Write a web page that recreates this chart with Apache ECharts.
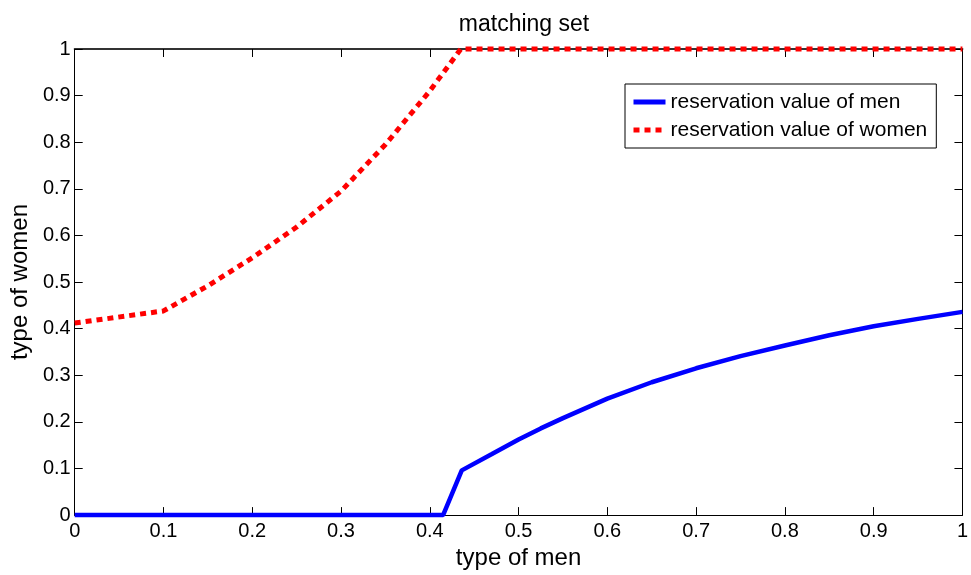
<!DOCTYPE html>
<html>
<head>
<meta charset="utf-8">
<script src="https://cdn.jsdelivr.net/npm/echarts@6/dist/echarts.min.js"></script>
<style>html,body{margin:0;padding:0;background:#fff;}#c{width:971px;height:575px;}</style>
</head>
<body>
<div id="c"></div>
<script>
const titleText = 'matching set';
const xName = 'type of men';
const yName = 'type of women';
const menName = 'reservation value of men';
const womenName = 'reservation value of women';
const menX = [0, 0.415, 0.436, 0.47, 0.5, 0.525, 0.55, 0.6, 0.65, 0.7, 0.75, 0.8, 0.85, 0.9, 0.95, 1.0];
const menY = [0, 0, 0.096, 0.131, 0.162, 0.186, 0.208, 0.25, 0.285, 0.315, 0.341, 0.364, 0.386, 0.405, 0.421, 0.436];
const womenX = [0, 0.1, 0.15, 0.2, 0.25, 0.3, 0.35, 0.4, 0.435, 1.0];
const womenY = [0.412, 0.438, 0.492, 0.552, 0.618, 0.695, 0.795, 0.91, 1.0, 1.0];

const pairs = (xs, ys) => xs.map((x, i) => [x, ys[i]]);
const font = 'Liberation Sans, Arial, sans-serif';
const chart = echarts.init(document.getElementById('c'), null, {renderer: 'canvas'});
const axisCommon = {
  type: 'value', min: 0, max: 1, interval: 0.1,
  axisLine: {show: true, onZero: false, lineStyle: {color: '#000', width: 1}},
  axisTick: {show: true, inside: true, length: 8, lineStyle: {color: '#000'}},
  splitLine: {show: false}
};
chart.setOption({
  animation: false,
  backgroundColor: '#fff',
  title: {
    text: titleText, left: 519, top: 8, textAlign: 'center',
    textStyle: {fontFamily: font, fontSize: 23, fontWeight: 'normal', color: '#000'}
  },
  grid: {left: 73, right: 5, top: 49, bottom: 57},
  legend: {
    orient: 'vertical', left: 625, top: 84,
    padding: [6, 9, 6, 6], itemGap: 4, itemWidth: 32, itemHeight: 14,
    backgroundColor: '#fff', borderColor: '#000', borderWidth: 1,
    itemStyle: {opacity: 0},
    textStyle: {fontFamily: font, fontSize: 21, color: '#000', lineHeight: 24},
    data: [
      {name: menName, lineStyle: {width: 5, color: '#0000ff', type: 'solid'}},
      {name: womenName, lineStyle: {width: 5, color: '#ff0000', type: [6, 5]}}
    ]
  },
  xAxis: [
    Object.assign({}, axisCommon, {
      position: 'bottom', name: xName, nameLocation: 'middle', nameGap: 28,
      nameTextStyle: {fontFamily: font, fontSize: 24, color: '#000'},
      axisLabel: {fontFamily: font, fontSize: 20, color: '#000', margin: 6}
    }),
    Object.assign({}, axisCommon, {position: 'top', axisLabel: {show: false},
      axisLine: {show: true, onZero: false, lineStyle: {color: '#333', width: 2}}})
  ],
  yAxis: [
    Object.assign({}, axisCommon, {
      position: 'left', name: yName, nameLocation: 'middle', nameGap: 37,
      nameTextStyle: {fontFamily: font, fontSize: 24, color: '#000'},
      axisLabel: {fontFamily: font, fontSize: 20, color: '#000', margin: 4}
    }),
    Object.assign({}, axisCommon, {position: 'right', axisLabel: {show: false}})
  ],
  series: [
    {
      name: menName, type: 'line', data: pairs(menX, menY), showSymbol: false, symbol: 'none',
      lineStyle: {color: '#0000ff', width: 4.5}, itemStyle: {color: '#0000ff'}, clip: false
    },
    {
      name: womenName, type: 'line', data: pairs(womenX, womenY), showSymbol: false, symbol: 'none',
      lineStyle: {color: '#ff0000', width: 5, type: [6, 5]}, itemStyle: {color: '#ff0000'}, clip: false
    }
  ]
});
</script>
</body>
</html>
